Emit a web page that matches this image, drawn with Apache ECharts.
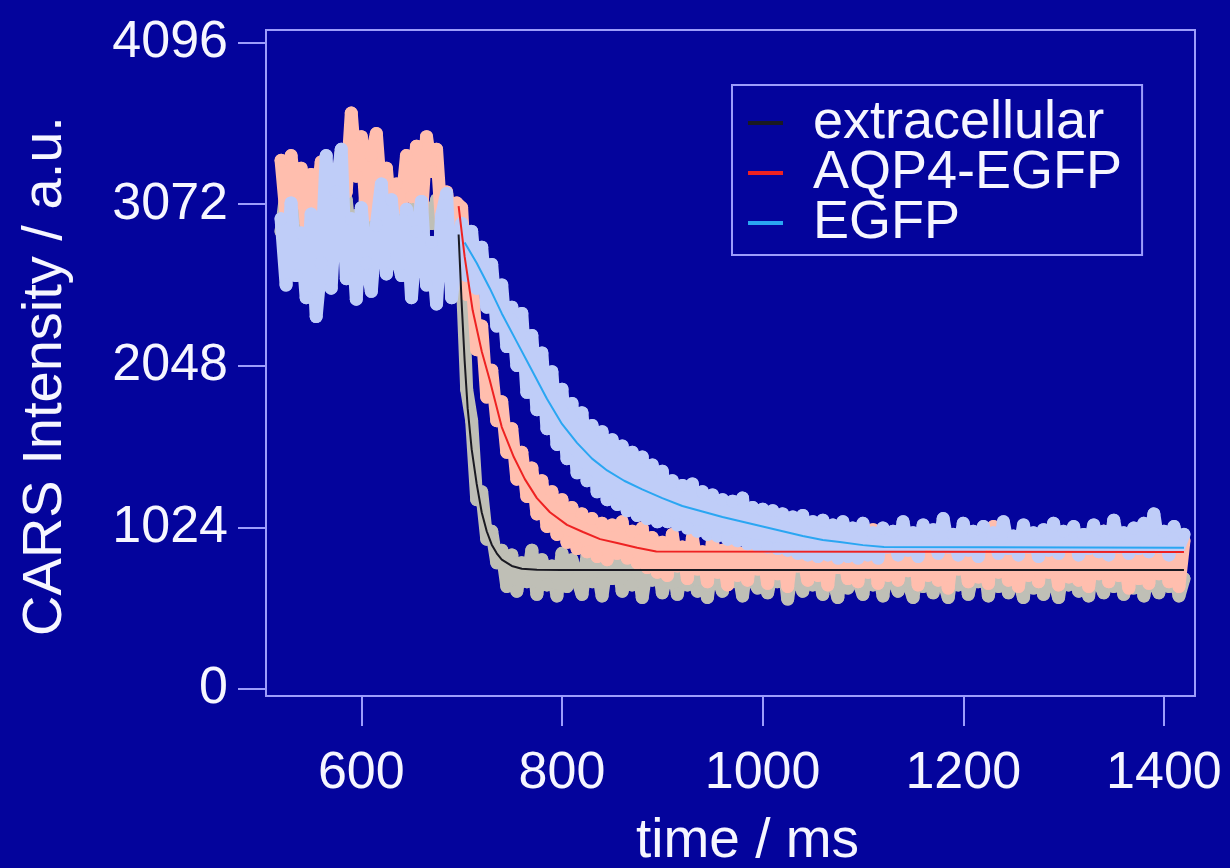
<!DOCTYPE html>
<html>
<head>
<meta charset="utf-8">
<script src="https://cdn.jsdelivr.net/npm/echarts@6/dist/echarts.min.js"></script>
<style>
html,body{margin:0;padding:0;background:#04049c;}
#chart{width:1230px;height:868px;}
</style>
</head>
<body>
<div id="chart"></div>
<script>
// CARS 强度随时间变化：原始数据点 + 拟合曲线

// 刻度
var xTicks = [600, 800, 1000, 1200, 1400];
var yTicks = [0, 1024, 2048, 3072, 4096];

// extracellular 原始数据 [ms, a.u.]
var extracellularData = [
    [520,2900],[525,3150],[530,2800],[535,3050],[540,2850],[545,3100],[550,2780],[555,3000],[560,2900],[565,3120],
    [570,2820],[575,3050],[580,2880],[585,3100],[590,2800],[595,3000],[600,2900],[605,3150],[610,2850],[615,3050],
    [620,2780],[625,2980],[630,2880],[635,3100],[640,2800],[645,3000],[650,2900],[655,3120],[660,2820],[665,3050],
    [670,2950],[675,3100],[680,2850],[685,3000],[690,2780],[695,2950],[700,2700],[705,1900],[710,1700],[715,1200],
    [720,1250],[725,950],[730,1000],[735,800],[740,880],[745,650],[750,850],[755,620],[760,800],[765,680],
    [770,880],[775,600],[780,820],[785,660],[790,780],[795,590],[800,860],[805,650],[810,820],[815,700],
    [820,600],[825,850],[830,680],[835,780],[840,590],[845,820],[850,700],[855,880],[860,620],[865,760],
    [870,660],[875,840],[880,580],[885,790],[890,690],[895,860],[900,610],[905,740],[910,820],[915,600],
    [920,780],[925,660],[930,860],[935,620],[940,750],[945,580],[950,820],[955,700],[960,620],[965,870],
    [970,680],[975,780],[980,590],[985,830],[990,700],[995,640],[1000,880],[1005,610],[1010,760],[1015,680],
    [1020,840],[1025,570],[1030,790],[1035,700],[1040,620],[1045,860],[1050,660],[1055,760],[1060,600],[1065,820],
    [1070,700],[1075,580],[1080,850],[1085,640],[1090,770],[1095,690],[1100,600],[1105,830],[1110,660],[1115,780],
    [1120,590],[1125,850],[1130,700],[1135,620],[1140,800],[1145,680],[1150,580],[1155,840],[1160,650],[1165,760],
    [1170,610],[1175,880],[1180,690],[1185,580],[1190,790],[1195,660],[1200,830],[1205,600],[1210,740],[1215,680],
    [1220,860],[1225,590],[1230,770],[1235,650],[1240,820],[1245,610],[1250,750],[1255,700],[1260,580],[1265,850],
    [1270,640],[1275,760],[1280,600],[1285,820],[1290,690],[1295,580],[1300,800],[1305,660],[1310,870],[1315,620],
    [1320,740],[1325,590],[1330,830],[1335,680],[1340,610],[1345,790],[1350,650],[1355,860],[1360,600],[1365,720],
    [1370,640],[1375,840],[1380,590],[1385,760],[1390,680],[1395,610],[1400,830],[1405,650],[1410,770],[1415,590],
    [1420,700]
];

// AQP4-EGFP 原始数据
var aqp4Data = [
    [520,3350],[525,3000],[530,3380],[535,3080],[540,3300],[545,2950],[550,3260],[555,3050],[560,3340],[565,2980],
    [570,3200],[575,3100],[580,3400],[585,3150],[590,3650],[595,3250],[600,3500],[605,3000],[610,3380],[615,3520],
    [620,3100],[625,3300],[630,2950],[635,3200],[640,3050],[645,3380],[650,3120],[655,3440],[660,3000],[665,3500],
    [670,3280],[675,3420],[680,2950],[685,3150],[690,2900],[695,3080],[700,3050],[705,2500],[710,2650],[715,2150],
    [720,2300],[725,1850],[730,2020],[735,1700],[740,1820],[745,1500],[750,1650],[755,1330],[760,1500],[765,1220],
    [770,1400],[775,1110],[780,1320],[785,1030],[790,1250],[795,980],[800,1200],[805,930],[810,1150],[815,890],
    [820,1110],[825,870],[830,1080],[835,840],[840,1050],[845,820],[850,1040],[855,860],[860,1060],[865,830],
    [870,1000],[875,800],[880,1020],[885,770],[890,960],[895,740],[900,930],[905,720],[910,980],[915,780],
    [920,900],[925,700],[930,960],[935,760],[940,870],[945,680],[950,940],[955,740],[960,880],[965,660],
    [970,980],[975,720],[980,860],[985,690],[990,930],[995,760],[1000,870],[1005,670],[1010,950],[1015,730],
    [1020,880],[1025,650],[1030,920],[1035,780],[1040,850],[1045,690],[1050,990],[1055,720],[1060,880],[1065,660],
    [1070,940],[1075,770],[1080,860],[1085,700],[1090,950],[1095,680],[1100,900],[1105,740],[1110,1010],[1115,670],
    [1120,880],[1125,720],[1130,950],[1135,690],[1140,860],[1145,750],[1150,980],[1155,660],[1160,890],[1165,720],
    [1170,940],[1175,690],[1180,870],[1185,640],[1190,920],[1195,760],[1200,880],[1205,680],[1210,960],[1215,710],
    [1220,850],[1225,670],[1230,1030],[1235,740],[1240,890],[1245,690],[1250,930],[1255,650],[1260,870],[1265,720],
    [1270,960],[1275,680],[1280,900],[1285,740],[1290,850],[1295,660],[1300,990],[1305,710],[1310,880],[1315,690],
    [1320,940],[1325,650],[1330,870],[1335,730],[1340,1000],[1345,680],[1350,900],[1355,720],[1360,850],[1365,640],
    [1370,960],[1375,700],[1380,880],[1385,670],[1390,1020],[1395,730],[1400,910],[1405,680],[1410,870],[1415,650],
    [1420,940]
];

// EGFP 原始数据
var egfpData = [
    [520,2980],[525,2560],[530,3080],[535,2620],[540,2890],[545,2480],[550,3010],[555,2360],[560,2700],[565,3380],
    [570,2540],[575,3150],[580,3420],[585,2600],[590,2980],[595,2470],[600,3050],[605,2700],[610,2520],[615,2940],
    [620,3200],[625,2630],[630,3100],[635,2750],[640,2620],[645,3040],[650,2480],[655,2900],[660,3090],[665,2560],
    [670,2830],[675,2440],[680,3000],[685,3140],[690,2480],[695,2760],[700,2950],[705,2620],[710,2900],[715,2540],
    [720,2800],[725,2420],[730,2690],[735,2300],[740,2560],[745,2170],[750,2420],[755,2050],[760,2380],[765,1880],
    [770,2240],[775,1770],[780,2130],[785,1650],[790,2010],[795,1550],[800,1900],[805,1460],[810,1810],[815,1370],
    [820,1750],[825,1320],[830,1670],[835,1250],[840,1630],[845,1200],[850,1580],[855,1170],[860,1540],[865,1130],
    [870,1500],[875,1100],[880,1470],[885,1080],[890,1420],[895,1060],[900,1380],[905,1060],[910,1320],[915,1040],
    [920,1290],[925,1020],[930,1300],[935,1000],[940,1250],[945,980],[950,1230],[955,970],[960,1200],[965,950],
    [970,1190],[975,940],[980,1210],[985,920],[990,1150],[995,910],[1000,1140],[1005,900],[1010,1130],[1015,890],
    [1020,1110],[1025,880],[1030,1090],[1035,860],[1040,1100],[1045,850],[1050,1060],[1055,840],[1060,1070],[1065,850],
    [1070,1040],[1075,830],[1080,1060],[1085,840],[1090,1020],[1095,830],[1100,1050],[1105,850],[1110,990],[1115,830],
    [1120,1020],[1125,900],[1130,1000],[1135,850],[1140,1060],[1145,880],[1150,990],[1155,840],[1160,1040],[1165,920],
    [1170,1010],[1175,860],[1180,1080],[1185,900],[1190,980],[1195,850],[1200,1050],[1205,880],[1210,1000],[1215,840],
    [1220,1030],[1225,920],[1230,990],[1235,860],[1240,1060],[1245,890],[1250,970],[1255,850],[1260,1040],[1265,900],
    [1270,990],[1275,840],[1280,1010],[1285,880],[1290,1050],[1295,860],[1300,1000],[1305,910],[1310,1030],[1315,850],
    [1320,980],[1325,890],[1330,1040],[1335,870],[1340,1000],[1345,850],[1350,1070],[1355,900],[1360,990],[1365,860],
    [1370,1020],[1375,890],[1380,1050],[1385,870],[1390,1110],[1395,900],[1400,1000],[1405,850],[1410,1030],[1415,900],
    [1420,980]
];

// 拟合曲线
var extracellularFit = [
    [697,2880],[700,2450],[703,2080],[706,1780],[710,1520],[715,1300],[720,1120],[725,1000],
    [730,915],[735,860],[740,820],[750,780],[760,762],[775,756],[800,754],[1420,754]
];
var aqp4Fit = [
    [697,3060],[703,2740],[711,2400],[720,2140],[728,1958],[740,1660],[752,1470],[763,1330],
    [775,1210],[788,1120],[805,1040],[821,995],[838,950],[855,925],[875,895],[894,872],[1420,868]
];
var egfpFit = [
    [703,2830],[715,2700],[728,2540],[740,2380],[755,2200],[770,2020],[785,1840],[800,1680],
    [815,1560],[830,1460],[845,1385],[862,1320],[880,1265],[900,1210],[920,1160],[940,1125],
    [960,1090],[980,1060],[1000,1030],[1020,1000],[1040,970],[1060,945],[1077,932],[1100,912],
    [1121,900],[1420,896]
];

var frameColor = '#9d9dfb';
var textColor = '#f6f6ff';
var fontFamily = '"Liberation Sans", Arial, Helvetica, sans-serif';

function dotSeries(name, data, color, z) {
    return {
        name: name,
        type: 'line',
        data: data,
        symbol: 'circle',
        symbolSize: 13,
        showAllSymbol: true,
        silent: true,
        z: z,
        lineStyle: { color: color, width: 13, cap: 'round', join: 'round' },
        itemStyle: { color: color }
    };
}
function fitSeries(name, data, color, z) {
    return {
        name: name,
        type: 'line',
        data: data,
        symbol: 'none',
        silent: true,
        z: z,
        lineStyle: { color: color, width: 2 },
        itemStyle: { color: color }
    };
}
function plainNumber(v) {
    return String(v);
}

var myChart = echarts.init(document.getElementById('chart'));
var option = {
    animation: false,
    backgroundColor: '#04049c',
    grid: {
        left: 266,
        right: 35,
        top: 30,
        bottom: 172,
        show: true,
        borderColor: frameColor,
        borderWidth: 2,
        outerBoundsMode: 'none'
    },
    legend: {
        data: ['extracellular', 'AQP4-EGFP', 'EGFP'],
        orient: 'vertical',
        left: 732,
        top: 85,
        padding: [11, 20, 5, 16],
        itemGap: -4,
        itemWidth: 35,
        itemHeight: 4,
        icon: 'rect',
        borderColor: frameColor,
        borderWidth: 2,
        textStyle: {
            color: textColor,
            fontSize: 54,
            fontFamily: fontFamily,
            padding: [0, 0, 0, 25]
        }
    },
    xAxis: {
        type: 'value',
        min: 505,
        max: 1431,
        name: 'time / ms',
        nameLocation: 'middle',
        nameGap: 118,
        nameTextStyle: { color: textColor, fontSize: 55, fontFamily: fontFamily, padding: [0, 0, 0, 34] },
        splitLine: { show: false },
        axisLine: { show: true, onZero: false, lineStyle: { color: frameColor, width: 2 } },
        axisTick: { show: true, length: 30, customValues: xTicks, lineStyle: { color: frameColor, width: 2 } },
        axisLabel: { customValues: xTicks, formatter: plainNumber, margin: 52, color: textColor, fontSize: 52, fontFamily: fontFamily }
    },
    yAxis: {
        type: 'value',
        min: -44,
        max: 4176,
        name: 'CARS Intensity / a.u.',
        nameLocation: 'middle',
        nameGap: 192,
        nameTextStyle: { color: textColor, fontSize: 56, fontFamily: fontFamily, padding: [0, 26, 0, 0] },
        splitLine: { show: false },
        axisLine: { show: true, onZero: false, lineStyle: { color: frameColor, width: 2 } },
        axisTick: { show: true, length: 28, customValues: yTicks, lineStyle: { color: frameColor, width: 2 } },
        axisLabel: { customValues: yTicks, formatter: plainNumber, margin: 38, color: textColor, fontSize: 52, fontFamily: fontFamily }
    },
    series: [
        dotSeries('extracellular data', extracellularData, '#bfbfb6', 2),
        dotSeries('AQP4-EGFP data', aqp4Data, '#ffbeae', 3),
        dotSeries('EGFP data', egfpData, '#bfcdf8', 4),
        fitSeries('extracellular', extracellularFit, '#1a1a22', 5),
        fitSeries('AQP4-EGFP', aqp4Fit, '#ee2222', 6),
        fitSeries('EGFP', egfpFit, '#2aa6f2', 7)
    ]
};
myChart.setOption(option);
</script>
</body>
</html>
